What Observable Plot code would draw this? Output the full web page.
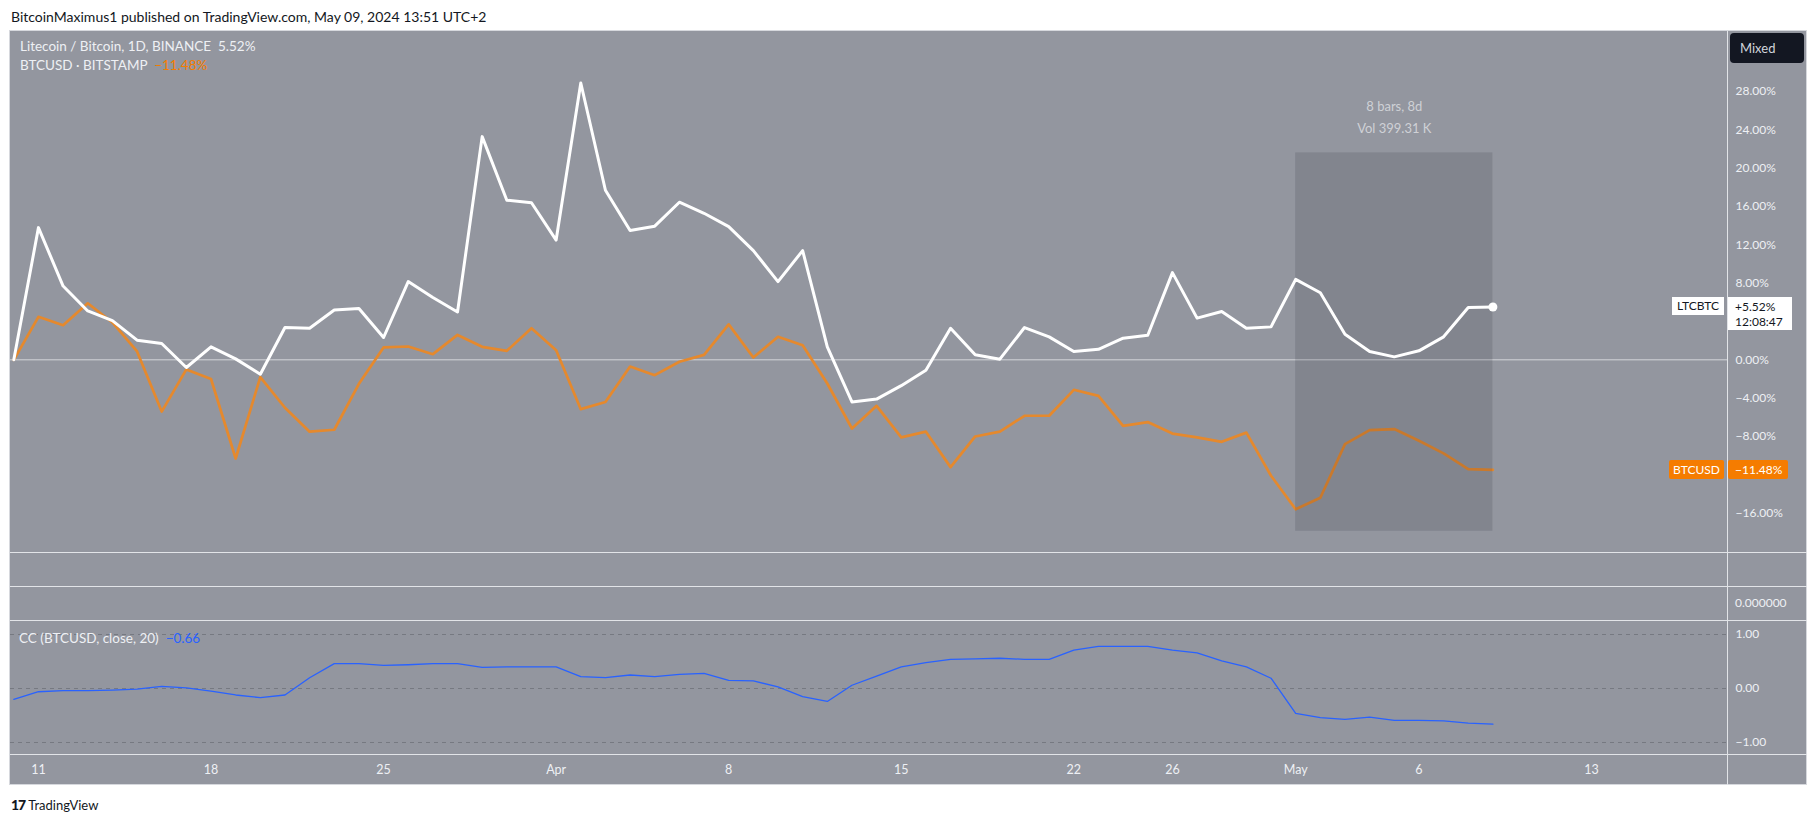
<!DOCTYPE html>
<html><head><meta charset="utf-8">
<script src="https://cdn.jsdelivr.net/npm/d3@7"></script>
<script src="https://cdn.jsdelivr.net/npm/@observablehq/plot@0.6"></script>
<style>
body{margin:0;background:#fff;font-family:Lato,"Open Sans",sans-serif;}
#wrap{position:relative;width:1818px;height:824px;overflow:hidden;background:#fff;}
.abs{position:absolute;white-space:nowrap;}
</style></head><body><div id="wrap"></div>
<script>
// ---------- data ----------
const startDate = new Date(Date.UTC(2024, 2, 10));
const endDate = new Date(Date.UTC(2024, 4, 10)); // exclusive -> last bar May 9
const ltcbtc = [0, 13.8, 7.7, 5.1, 4.1, 2.05, 1.7, -0.8, 1.36, 0.1, -1.5, 3.37, 3.3, 5.2, 5.36, 2.33, 8.17, 6.5, 5.0, 23.3, 16.66, 16.4, 12.5, 28.9, 17.7, 13.5, 13.95, 16.45, 15.3, 13.9, 11.4, 8.17, 11.4, 1.36, -4.4, -4.1, -2.7, -1.08, 3.3, 0.52, 0.07, 3.37, 2.4, 0.87, 1.1, 2.26, 2.57, 9.1, 4.35, 5.04, 3.3, 3.44, 8.4, 7.0, 2.68, 0.87, 0.31, 0.94, 2.4, 5.46, 5.52];
const btcusd = [0, 4.49, 3.6, 5.9, 3.9, 0.87, -5.4, -1.0, -2.0, -10.3, -1.8, -5.0, -7.5, -7.3, -2.5, 1.29, 1.39, 0.59, 2.6, 1.36, 0.94, 3.3, 1.0, -5.15, -4.4, -0.7, -1.6, -0.2, 0.52, 3.7, 0.24, 2.4, 1.53, -2.47, -7.17, -4.8, -8.1, -7.5, -11.2, -8.0, -7.5, -5.84, -5.84, -3.13, -3.76, -6.9, -6.5, -7.7, -8.1, -8.56, -7.6, -12.1, -15.6, -14.4, -8.8, -7.34, -7.23, -8.45, -9.77, -11.4, -11.48];
const ccValues = [-0.20, -0.06, -0.04, -0.04, -0.03, -0.01, 0.04, 0.01, -0.05, -0.12, -0.17, -0.12, 0.20, 0.46, 0.46, 0.43, 0.44, 0.46, 0.46, 0.39, 0.40, 0.40, 0.40, 0.22, 0.20, 0.25, 0.22, 0.26, 0.28, 0.15, 0.14, 0.03, -0.15, -0.24, 0.06, 0.23, 0.40, 0.48, 0.54, 0.55, 0.56, 0.54, 0.54, 0.71, 0.78, 0.78, 0.78, 0.71, 0.66, 0.51, 0.40, 0.19, -0.46, -0.54, -0.57, -0.53, -0.59, -0.59, -0.60, -0.64, -0.66];
const xTickDates = ["2024-03-11","2024-03-18","2024-03-25","2024-04-01","2024-04-08","2024-04-15","2024-04-22","2024-04-26","2024-05-01","2024-05-06","2024-05-13"];
const xTickLabels = ["11","18","25","Apr","8","15","22","26","May","6","13"];
const yTicksMain = [28, 24, 20, 16, 12, 8, 0, -4, -8, -16];
const yTicksCC = [1, 0, -1];
const measure = [{start: "2024-05-01", end: "2024-05-09", mid: "2024-05-05", low: -17.9, high: 21.6, bars: "8 bars, 8d", vol: "Vol 399.31 K"}];
const lastLtc = "+5.52%", lastLtcTime = "12:08:47", lastBtc = "−11.48%", lastCC = "−0.66";

// ---------- helpers ----------
const wrap = document.getElementById("wrap");
function addDiv(css, html) { const d = document.createElement("div"); d.className = "abs"; d.style.cssText = css; d.innerHTML = html; wrap.appendChild(d); return d; }
const minus = s => s.replace("-", "−");
const fmtPct = v => minus(v.toFixed(2)) + "%";
const fmtNum = v => minus(v.toFixed(2));

const dates = d3.utcDay.range(startDate, endDate);
const rows = dates.map((d, i) => ({date: d, ltc: ltcbtc[i], btc: btcusd[i], cc: ccValues[i]}));
const labelMap = new Map(xTickDates.map((s, i) => [+new Date(s), xTickLabels[i]]));
const xScale = {type: "utc", domain: [new Date("2024-03-10"), new Date("2024-05-13")], range: [3.3, 1581], label: null};
const txt = "#eef0f4";

// ---------- header & frame ----------
addDiv("left:11px;top:7px;font-size:14px;color:#131722;line-height:19px;", "BitcoinMaximus1 published on TradingView.com, May 09, 2024 13:51 UTC+2");
addDiv("left:9px;top:30px;width:1798px;height:755px;background:#93969f;border:1px solid #d6d8dd;box-sizing:border-box;", "");

// ---------- main pane ----------
const main = Plot.plot({
  width: 1797, height: 521, marginLeft: 0, marginRight: 80, marginTop: 0, marginBottom: 0,
  style: {background: "transparent", fontFamily: "Lato, sans-serif", fontSize: "12px", color: txt, overflow: "visible"},
  x: {...xScale, axis: null},
  y: {domain: [-16, 28], range: [481.6, 60.1], axis: null, label: null},
  marks: [
    Plot.ruleY([0], {stroke: "#d3d5da", strokeWidth: 1}),
    Plot.line(rows, {x: "date", y: "btc", stroke: "#e5892d", strokeWidth: 2.7, strokeLinejoin: "round"}),
    Plot.rect(measure, {x1: d => new Date(d.start), x2: d => new Date(d.end), y1: "low", y2: "high", fill: "#131722", fillOpacity: 0.133}),
    Plot.text(measure, {x: d => new Date(d.mid), y: "high", text: "bars", dy: -46.5, fill: "#cfd1d6", fontSize: 13}),
    Plot.text(measure, {x: d => new Date(d.mid), y: "high", text: "vol", dy: -24.2, fill: "#cfd1d6", fontSize: 13}),
    Plot.line(rows, {x: "date", y: "ltc", stroke: "#ffffff", strokeWidth: 3, strokeLinejoin: "round"}),
    Plot.dot([rows[rows.length - 1]], {x: "date", y: "ltc", r: 4.5, fill: "#ffffff"}),
    Plot.axisY(yTicksMain, {anchor: "right", tickSize: 0, tickPadding: 8, tickFormat: fmtPct, textAnchor: "start", fill: txt})
  ]
});
main.style.position = "absolute"; main.style.left = "10px"; main.style.top = "31px";
wrap.appendChild(main);

// ---------- CC pane + time axis ----------
const ccPlot = Plot.plot({
  width: 1797, height: 165, marginLeft: 0, marginRight: 80, marginTop: 0, marginBottom: 31,
  style: {background: "transparent", fontFamily: "Lato, sans-serif", fontSize: "12px", color: txt, overflow: "visible"},
  x: {...xScale},
  y: {domain: [-1, 1], range: [122, 14], label: null, axis: null},
  marks: [
    Plot.ruleY(yTicksCC, {stroke: "#767981", strokeDasharray: "4,4", strokeWidth: 1}),
    Plot.line(rows, {x: "date", y: "cc", stroke: "#2962ff", strokeWidth: 1.3}),
    Plot.axisY(yTicksCC, {anchor: "right", tickSize: 0, tickPadding: 8, tickFormat: fmtNum, textAnchor: "start", fill: txt}),
    Plot.axisX(xTickDates.map(s => new Date(s)), {anchor: "bottom", tickSize: 0, tickPadding: 11, tickFormat: d => labelMap.get(+d), fill: txt, label: null, fontSize: 12.5})
  ]
});
ccPlot.style.position = "absolute"; ccPlot.style.left = "10px"; ccPlot.style.top = "620px";
wrap.appendChild(ccPlot);

// ---------- separators ----------
const sep = "#e2e4e8";
[552, 586, 620, 754].forEach(y => addDiv(`left:10px;top:${y}px;width:1797px;height:1px;background:${sep};`, ""));
addDiv(`left:1727px;top:31px;width:1px;height:754px;background:${sep};`, "");
addDiv(`left:1735px;top:595px;font-size:12px;line-height:16px;color:${txt};`, "0.000000");

// ---------- legends ----------
addDiv(`left:20px;top:37px;font-size:13.5px;line-height:18px;color:${txt};`, "Litecoin / Bitcoin, 1D, BINANCE&nbsp;&nbsp;5.52%");
addDiv(`left:20px;top:56px;font-size:13.5px;line-height:18px;color:${txt};`, `BTCUSD · BITSTAMP&nbsp;&nbsp;<span style="color:#f57c00">${lastBtc}</span>`);
addDiv(`left:19px;top:629px;font-size:13.5px;line-height:18px;color:${txt};`, `CC (BTCUSD, close, 20)&nbsp;&nbsp;<span style="color:#2962ff">${lastCC}</span>`);

// ---------- Mixed button ----------
addDiv("left:1730px;top:33px;width:74px;height:30px;background:#131722;border-radius:4px;color:#d1d4dc;font-size:13px;line-height:30px;padding-left:10px;box-sizing:border-box;", "Mixed");

// ---------- last value labels ----------
const yMain = main.scale("y");
const yL = 31 + yMain.apply(ltcbtc[ltcbtc.length - 1]);
const yB = 31 + yMain.apply(btcusd[btcusd.length - 1]);
addDiv(`left:1672px;top:${yL - 9}px;width:52px;height:18px;background:#fff;color:#131722;font-size:12px;line-height:18px;text-align:center;`, "LTCBTC");
addDiv(`left:1728px;top:${yL - 9}px;width:64px;height:33px;background:#fff;color:#131722;font-size:12px;line-height:15px;padding:2px 0 0 7px;box-sizing:border-box;`, `${lastLtc}<br>${lastLtcTime}`);
addDiv(`left:1669px;top:${yB - 9.5}px;width:55px;height:19px;background:#f57c00;color:#fff;font-size:12px;line-height:19px;text-align:center;border-radius:2px;`, "BTCUSD");
addDiv(`left:1728px;top:${yB - 9.5}px;width:60px;height:19px;background:#f57c00;color:#fff;font-size:12px;line-height:19px;padding-left:7px;box-sizing:border-box;border-radius:2px;`, lastBtc);

// ---------- footer ----------
addDiv("left:11px;top:796px;font-size:13px;line-height:18px;color:#131722;", `<span style="font-weight:900;letter-spacing:-1px;font-size:14px">17</span>&nbsp;TradingView`);
</script></body></html>
